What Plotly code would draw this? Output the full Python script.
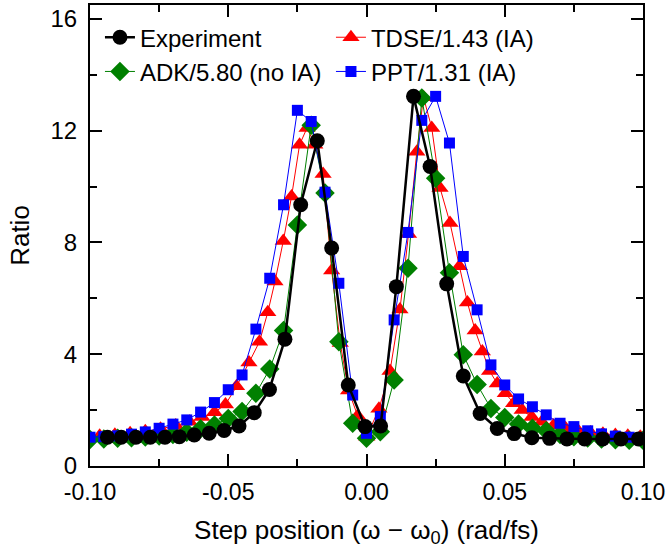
import plotly.graph_objects as go

# ---- data ----
exp_x = [-0.0937, -0.0887, -0.0834, -0.0782, -0.0729, -0.0677, -0.0623, -0.0569, -0.0515, -0.0461,
         -0.0406, -0.0351, -0.0295, -0.0238, -0.0178, -0.0126, -0.0066, -0.0005, 0.0051, 0.0108,
         0.0170, 0.0230, 0.0290, 0.0350, 0.0411, 0.0473, 0.0534, 0.0598, 0.0662, 0.0725,
         0.0789, 0.0854, 0.0920, 0.0984]
exp_y = [1.03, 1.03, 1.03, 1.03, 1.03, 1.05, 1.11, 1.17, 1.27, 1.43,
         1.91, 2.74, 4.54, 9.35, 11.64, 7.80, 2.90, 1.41, 1.43, 6.42,
         13.23, 10.72, 6.52, 3.22, 1.88, 1.34, 1.16, 1.01, 0.99, 0.97,
         0.97, 0.97, 0.97, 0.97]

tdse_x = [-0.0965, -0.0910, -0.0855, -0.0800, -0.0745, -0.0690, -0.0640, -0.0595, -0.0550, -0.0510,
          -0.0470, -0.0425, -0.0387, -0.0357, -0.0331, -0.0301, -0.0271, -0.0242, -0.0215, -0.0187,
          -0.0157, -0.0126, -0.0095, -0.0065, -0.0032, 0.0001, 0.0045, 0.0085, 0.0121, 0.0152,
          0.0182, 0.0206, 0.0236, 0.0266, 0.0302, 0.0336, 0.0365, 0.0393, 0.0419, 0.0445,
          0.0473, 0.0502, 0.0532, 0.0563, 0.0598, 0.0634, 0.0676, 0.0720, 0.0765, 0.0810,
          0.0855, 0.0900, 0.0945, 0.0990]
tdse_y = [1.08, 1.12, 1.17, 1.24, 1.33, 1.45, 1.58, 1.75, 1.92, 2.20,
          2.85, 3.70, 4.45, 5.50, 6.60, 8.05, 9.65, 11.50, 12.10, 11.50,
          10.45, 7.00, 4.40, 2.70, 1.80, 1.05, 2.05, 3.40, 5.60, 8.30,
          11.25, 13.20, 12.10, 9.95, 8.70, 7.15, 5.85, 4.85, 4.10, 3.40,
          2.95, 2.60, 2.25, 2.00, 1.75, 1.58, 1.45, 1.35, 1.27, 1.20,
          1.15, 1.11, 1.08, 1.05]

adk_x = [-0.100, -0.095, -0.090, -0.085, -0.080, -0.075, -0.070, -0.065, -0.060, -0.055,
         -0.050, -0.045, -0.040, -0.035, -0.030, -0.025, -0.020, -0.015, -0.010, -0.005,
         0.000, 0.005, 0.010, 0.015, 0.020, 0.025, 0.030, 0.035, 0.040, 0.045,
         0.050, 0.055, 0.060, 0.065, 0.070, 0.075, 0.080, 0.085, 0.090, 0.095, 0.100]
adk_y = [0.95, 0.97, 0.99, 1.01, 1.04, 1.07, 1.13, 1.21, 1.33, 1.47,
         1.70, 1.95, 2.60, 3.47, 4.85, 8.63, 12.20, 9.77, 4.45, 1.53,
         0.99, 1.23, 3.08, 7.08, 13.17, 10.30, 6.92, 3.98, 2.92, 2.06,
         1.74, 1.50, 1.35, 1.26, 1.13, 1.05, 1.00, 0.97, 0.94, 0.92, 0.92]

ppt_x = [-0.100, -0.095, -0.090, -0.085, -0.080, -0.075, -0.070, -0.065, -0.060, -0.055,
         -0.050, -0.045, -0.040, -0.035, -0.030, -0.025, -0.020, -0.015, -0.010, -0.005,
         0.000, 0.005, 0.010, 0.015, 0.020, 0.025, 0.030, 0.035, 0.040, 0.045,
         0.050, 0.055, 0.060, 0.065, 0.070, 0.075, 0.080, 0.085, 0.090, 0.095, 0.100]
ppt_y = [1.03, 1.05, 1.08, 1.14, 1.22, 1.35, 1.50, 1.65, 1.93, 2.27,
         2.73, 3.26, 4.90, 6.72, 9.35, 12.73, 12.33, 9.80, 6.54, 2.54,
         1.17, 1.77, 5.23, 8.36, 12.37, 13.23, 11.56, 7.50, 5.59, 3.62,
         2.90, 2.40, 2.12, 1.83, 1.53, 1.41, 1.26, 1.15, 1.07, 1.03, 1.00]

x_tickvals = [-0.10, -0.05, 0.00, 0.05, 0.10]
x_ticktext = ["-0.10", "-0.05", "0.00", "0.05", "0.10"]
y_tickvals = [0, 4, 8, 12, 16]
y_ticktext = ["0", "4", "8", "12", "16"]

FONT = "Liberation Sans, Arial, sans-serif"

fig = go.Figure()
fig.add_trace(go.Scatter(x=tdse_x, y=tdse_y, mode="lines+markers", name="TDSE/1.43 (IA)",
                         legendrank=2, line=dict(color="#ff0000", width=1),
                         marker=dict(symbol="triangle-up", size=15, color="#ff0000")))
fig.add_trace(go.Scatter(x=adk_x, y=adk_y, mode="lines+markers", name="ADK/5.80 (no IA)",
                         legendrank=3, line=dict(color="#008000", width=1),
                         marker=dict(symbol="diamond", size=15, color="#008000")))
fig.add_trace(go.Scatter(x=ppt_x, y=ppt_y, mode="lines+markers", name="PPT/1.31 (IA)",
                         legendrank=4, line=dict(color="#0000ff", width=1),
                         marker=dict(symbol="square", size=11, color="#0000ff")))
fig.add_trace(go.Scatter(x=exp_x, y=exp_y, mode="lines+markers", name="Experiment",
                         legendrank=1, line=dict(color="#000000", width=2.5),
                         marker=dict(symbol="circle", size=15, color="#000000")))

axis_common = dict(showline=True, linecolor="black", linewidth=2, mirror="allticks",
                   ticks="inside", ticklen=12, tickwidth=2, tickcolor="black",
                   showgrid=False, zeroline=False, automargin=False)

fig.update_xaxes(range=[-0.10, 0.10], tickvals=x_tickvals, ticktext=x_ticktext,
                 ticklabelstandoff=4,
                 tickfont=dict(family=FONT, size=23, color="black"),
                 minor=dict(ticks="inside", ticklen=7, tickwidth=2, tickcolor="black",
                            dtick=0.025, tick0=0, showgrid=False),
                 title=dict(text="Step position (\u03c9 \u2212 \u03c9<sub>0</sub>) (rad/fs)",
                            font=dict(family=FONT, size=26, color="black"), standoff=17),
                 **axis_common)
fig.update_yaxes(range=[0, 16.5], tickvals=y_tickvals, ticktext=y_ticktext,
                 ticklabelstandoff=6,
                 tickfont=dict(family=FONT, size=24, color="black"),
                 minor=dict(ticks="inside", ticklen=7, tickwidth=2, tickcolor="black",
                            dtick=2, tick0=0, showgrid=False),
                 title=dict(text="Ratio", font=dict(family=FONT, size=26, color="black"), standoff=13),
                 **axis_common)

fig.update_layout(
    width=668, height=554,
    margin=dict(l=90, r=25, t=5, b=88),
    paper_bgcolor="white", plot_bgcolor="white",
    font=dict(family=FONT, color="black"),
    showlegend=True,
    legend=dict(orientation="h", x=0.018, y=0.978, xanchor="left", yanchor="top",
                entrywidth=186, entrywidthmode="pixels",
                bgcolor="rgba(0,0,0,0)", borderwidth=0,
                font=dict(family=FONT, size=24, color="black"),
                traceorder="normal", itemsizing="trace"),
)

fig.write_html("out.html", config={"displayModeBar": False},
               post_script="document.body.style.margin='0';")
